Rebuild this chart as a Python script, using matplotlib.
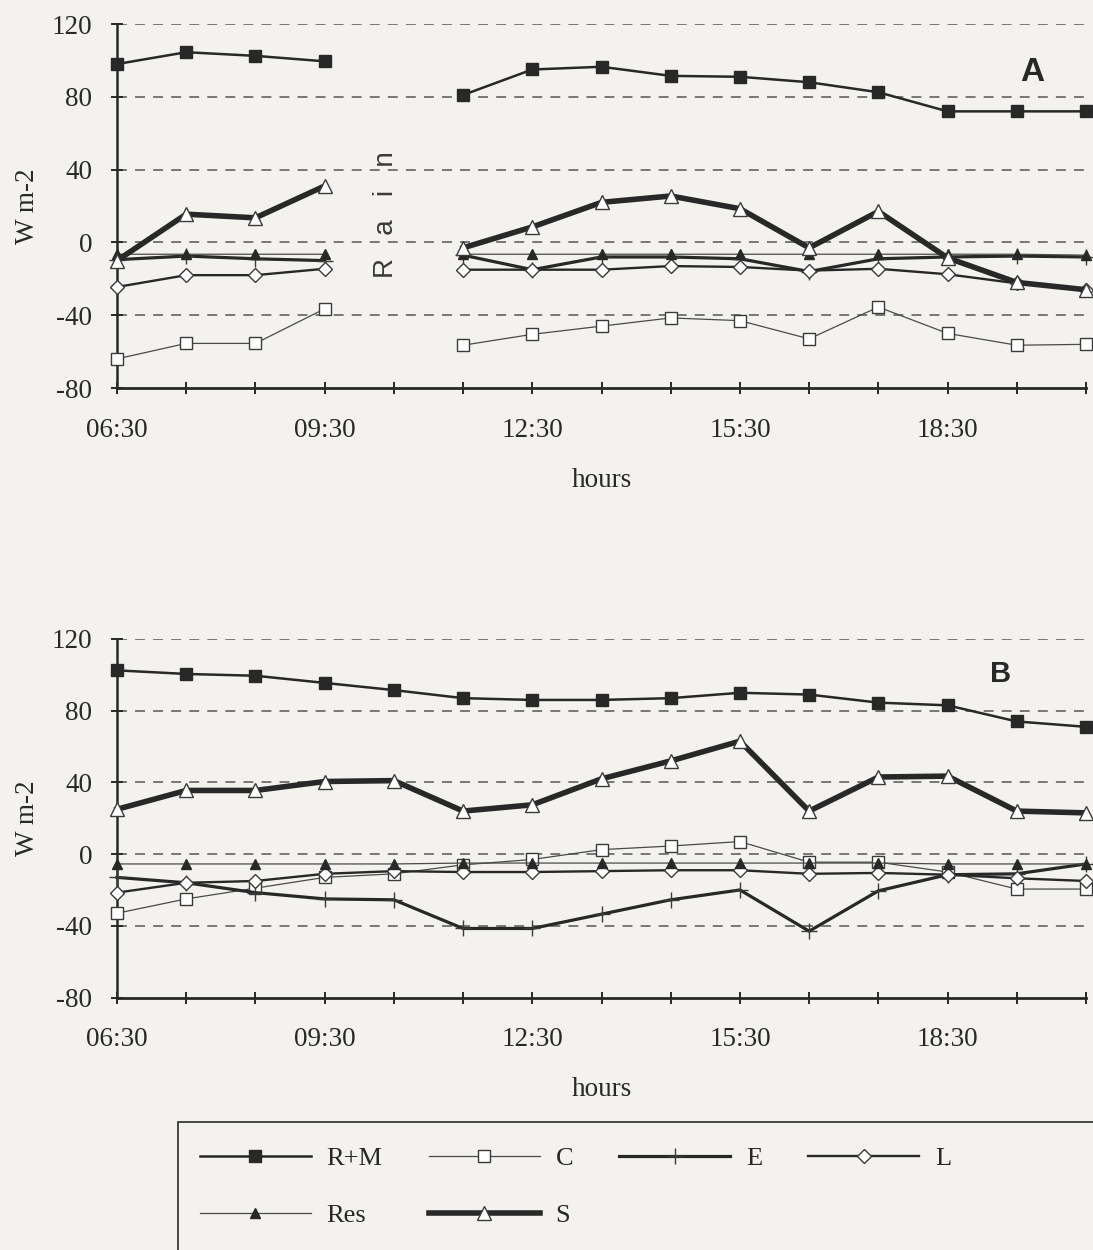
import numpy as np
import matplotlib
matplotlib.use("Agg")
import matplotlib.pyplot as plt
from matplotlib.lines import Line2D
from matplotlib.patches import Rectangle

nan = np.nan

# ---------------- data ----------------
hours = [6.5, 7.5, 8.5, 9.5, 10.5, 11.5, 12.5, 13.5, 14.5, 15.5, 16.5, 17.5, 18.5, 19.5, 20.5]
tick_pos = [6.5, 9.5, 12.5, 15.5, 18.5]
tick_labels = ["06:30", "09:30", "12:30", "15:30", "18:30"]
y_ticks = [120, 80, 40, 0, -40, -80]
y_tick_labels = ["120", "80", "40", "0", "-40", "-80"]

# Panel A (gap at 10:30 = rain)
A_RM = [98, 104.5, 102.5, 99.5, nan, 81, 95, 96.5, 91.5, 91, 88, 82.5, 72, 72, 72]
A_C = [-64, -55.5, -55.5, -36.5, nan, -56.5, -50.5, -46, -41.5, -43, -53, -35.5, -50, -56.5, -56]
A_E = [-9.5, -7.5, -9, -10, nan, -7, -15, -8, -8, -9, -16, -9, -8, -7.5, -8]
A_L = [-24.5, -18, -18, -14.5, nan, -15, -15, -15, -13, -13.5, -15.5, -14.5, -17.5, -22.5, -26]
A_Res = [-6.5, -6.5, -6.5, -6.5, nan, -6.5, -6.5, -6.5, -6.5, -6.5, -6.5, -6.5, -6.5, -6.5, -7]
A_S = [-10, 15.5, 13.5, 31, nan, -3, 8.5, 22, 25.5, 18.5, -3, 17, -8.5, -22, -26]

# Panel B
B_RM = [102.5, 100.5, 99.5, 95.5, 91.5, 87, 86, 86, 87, 90, 89, 84.5, 83, 74, 71]
B_C = [-33, -25, -19, -13, -11, -6, -3, 2.5, 4.5, 7, -4.5, -4.5, -10, -19.5, -19.5]
B_E = [-13, -16, -21.5, -25, -25.5, -41.5, -41.5, -33.5, -25.5, -20, -43, -20.5, -11.5, -11, -5.5]
B_L = [-21.5, -16, -15, -11, -9.5, -10, -10, -9.5, -9, -9, -11, -10.5, -11.5, -13.5, -15]
B_Res = [-5.5, -5.5, -5.5, -5.5, -5.5, -5, -5, -5, -5, -5, -5, -5, -5.5, -5.5, -5.5]
B_S = [25, 35.5, 35.5, 40.5, 41, 24, 27.5, 42, 52, 63, 24, 43, 43.5, 24, 23]

series_names = ["R+M", "C", "E", "L", "Res", "S"]

# ---------------- style ----------------
BG = "#f3f2ee"
DARK = "#282828"
SERIF = "Liberation Serif"
SANS = "Liberation Sans"

styles = {
    "R+M": dict(color=DARK, lw=1.8, marker="s", ms=8.5, mfc=DARK, mec=DARK, mew=1.0),
    "C":   dict(color="#4a4a4a", lw=0.9, marker="s", ms=8.5, mfc="white", mec="#3a3a3a", mew=1.0),
    "E":   dict(color=DARK, lw=2.3, marker="+", ms=11, mfc=DARK, mec="#3a3a3a", mew=1.0),
    "L":   dict(color=DARK, lw=1.7, marker="D", ms=7.2, mfc="white", mec="#3a3a3a", mew=1.0),
    "Res": dict(color="#4a4a4a", lw=0.9, marker="^", ms=7.5, mfc=DARK, mec=DARK, mew=1.0),
    "S":   dict(color=DARK, lw=4.0, marker="^", ms=9.5, mfc="white", mec="#3a3a3a", mew=1.0),
}

fig = plt.figure(figsize=(10.93, 12.5), dpi=100, facecolor=BG)

W, H = 1093.0, 1250.0
def axes_rect(left, right, top, bottom):
    return [left / W, 1 - bottom / H, (right - left) / W, (bottom - top) / H]

axA = fig.add_axes(axes_rect(117, 1086, 24, 388))
axB = fig.add_axes(axes_rect(117, 1086, 639, 997.5))

full_labels = [tick_labels[tick_pos.index(h)] if h in tick_pos else "" for h in hours]

def setup(ax, data, letter, letter_xy, letter_size):
    ax.set_facecolor(BG)
    for name, vals in zip(series_names, data):
        ax.plot(hours, vals, clip_on=False, zorder=3, **styles[name])
    ax.set_xlim(6.5, 20.5)
    ax.set_ylim(-80, 120)
    for s in ["top", "right"]:
        ax.spines[s].set_visible(False)
    ax.spines["left"].set_linewidth(1.8)
    ax.spines["bottom"].set_linewidth(2.0)
    ax.spines["left"].set_color(DARK)
    ax.spines["bottom"].set_color(DARK)
    ax.set_xticks(hours)
    ax.set_xticklabels(full_labels, fontfamily=SERIF, fontsize=19.5, color=DARK)
    ax.tick_params(axis="x", direction="inout", length=8, width=1.4, color=DARK, pad=17.5)
    ax.set_yticks(y_ticks)
    ax.set_yticklabels(y_tick_labels, fontfamily=SERIF, fontsize=19.5, color=DARK)
    ax.tick_params(axis="y", direction="inout", length=8, width=1.4, color=DARK, pad=14)
    for y in y_ticks[:-1]:
        ax.axhline(y, color="#6e6e6e", lw=1.3, dashes=(5.5, 4.5), zorder=1)
    ax.set_ylabel("W m-2", fontfamily=SERIF, fontsize=19.5, color=DARK, labelpad=8)
    ax.set_xlabel("hours", fontfamily=SERIF, fontsize=19.5, color=DARK, labelpad=18)
    ax.text(letter_xy[0], letter_xy[1], letter, fontfamily=SANS, fontweight="bold",
            fontsize=letter_size, color=DARK, ha="center", va="center")

setup(axA, [A_RM, A_C, A_E, A_L, A_Res, A_S], "A", (19.72, 93.5), 24)
setup(axB, [B_RM, B_C, B_E, B_L, B_Res, B_S], "B", (19.27, 100.5), 21)

axA.text(10.38, 15, "R   a   i   n", fontfamily=SANS, fontsize=20, color="#3a3a3a",
         rotation=90, ha="center", va="center")

# ---------------- legend ----------------
handles = {n: Line2D([], [], **styles[n]) for n in series_names}
order = ["R+M", "Res", "C", "S", "E", "L"]
leg = fig.legend([handles[n] for n in order], order, ncol=4, loc="upper left",
                 bbox_to_anchor=(200 / W, 1 - 1147 / H), frameon=False,
                 prop={"family": SERIF, "size": 19}, handlelength=4.2,
                 handletextpad=0.6, columnspacing=1.75, labelspacing=1.25,
                 borderpad=0, borderaxespad=0, numpoints=1)
for t in leg.get_texts():
    t.set_color(DARK)

fig.patches.append(Rectangle((178 / W, -0.05), 1.0, 0.05 + (1250 - 1122) / H,
                             transform=fig.transFigure, fill=False,
                             edgecolor="#3a3a3a", lw=1.3))

fig.savefig("out.png", dpi=100, facecolor=BG)
